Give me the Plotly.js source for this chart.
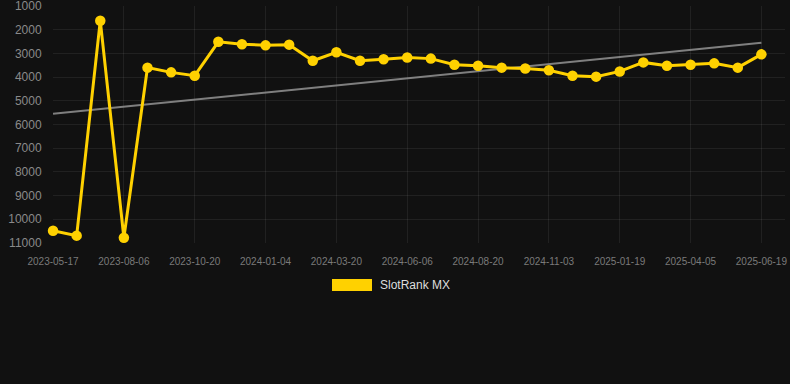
<!DOCTYPE html>
<html>
<head>
<meta charset="utf-8">
<script src="https://cdn.plot.ly/plotly-3.0.1.min.js"></script>
<style>
html,body{margin:0;padding:0;background:#111111;}
#chart{width:790px;height:384px;}
</style>
</head>
<body>
<div id="chart"></div>
<script>
const dates = [
  "2023-05-17","2023-06-13","2023-07-10","2023-08-06","2023-08-31","2023-09-25",
  "2023-10-20","2023-11-14","2023-12-10","2024-01-04","2024-01-29","2024-02-24",
  "2024-03-20","2024-04-15","2024-05-11","2024-06-06","2024-07-01","2024-07-26",
  "2024-08-20","2024-09-14","2024-10-09","2024-11-03","2024-11-29","2024-12-25",
  "2025-01-19","2025-02-13","2025-03-11","2025-04-05","2025-04-30","2025-05-25",
  "2025-06-19"
];
const rank = [
  10480, 10690, 1620, 10780, 3600, 3800,
  3940, 2510, 2610, 2660, 2630, 3310,
  2950, 3310, 3250, 3170, 3220, 3480,
  3520, 3600, 3640, 3710, 3940, 3980,
  3760, 3380, 3520, 3480, 3420, 3600,
  3040
];
const trendDates = ["2023-05-17", "2025-06-19"];
const trendValues = [5550, 2550];
const tickDates = dates.filter((d, i) => i % 3 === 0);
const yTicks = [1000, 2000, 3000, 4000, 5000, 6000, 7000, 8000, 9000, 10000, 11000];
const seriesName = "SlotRank MX";

const yellow = "#FFD100";
const traces = [
  {
    x: trendDates, y: trendValues, type: "scatter", mode: "lines",
    line: {color: "rgba(140,140,140,0.9)", width: 2},
    hoverinfo: "skip", showlegend: false, cliponaxis: false
  },
  {
    x: dates, y: rank, type: "scatter", mode: "lines+markers", name: seriesName,
    line: {color: yellow, width: 3},
    marker: {color: yellow, size: 10.5},
    showlegend: false, cliponaxis: false
  }
];
const gridColor = "rgba(255,255,255,0.07)";
const layout = {
  width: 790, height: 384,
  margin: {l: 53, r: 5, t: 6, b: 141},
  paper_bgcolor: "#111111", plot_bgcolor: "#111111",
  font: {family: "Liberation Sans, Arial, sans-serif", color: "#888"},
  xaxis: {
    type: "category", categoryorder: "array", categoryarray: dates,
    range: [-0.002, 31], tickvals: tickDates, ticktext: tickDates,
    showgrid: true, gridcolor: gridColor, gridwidth: 1,
    zeroline: false, showline: false,
    ticks: "outside", ticklen: 9, tickcolor: "rgba(0,0,0,0)",
    tickfont: {size: 10, color: "#7a7a7a"}, fixedrange: true,
    ticklabeloverflow: "allow"
  },
  yaxis: {
    range: [11000.5, 999.5], tickvals: yTicks, ticktext: yTicks.map(String),
    showgrid: true, gridcolor: gridColor, gridwidth: 1,
    zeroline: false, showline: false,
    ticks: "outside", ticklen: 8, tickcolor: "rgba(0,0,0,0)",
    tickfont: {size: 12, color: "#8a8a8a"}, fixedrange: true,
    ticklabeloverflow: "allow"
  },
  showlegend: false,
  shapes: [
    {type: "rect", xref: "paper", yref: "paper",
     x0: (332 - 53) / 732, x1: (372 - 53) / 732,
     y0: (243 - 291) / 237, y1: (243 - 279) / 237,
     fillcolor: yellow, line: {width: 0}}
  ],
  annotations: [
    {xref: "paper", yref: "paper", x: (378 - 53) / 732, y: (243 - 285) / 237,
     xanchor: "left", yanchor: "middle", showarrow: false,
     text: seriesName, font: {size: 12, color: "#dddddd"}}
  ]
};
Plotly.newPlot("chart", traces, layout, {displayModeBar: false, staticPlot: true});
</script>
</body>
</html>
